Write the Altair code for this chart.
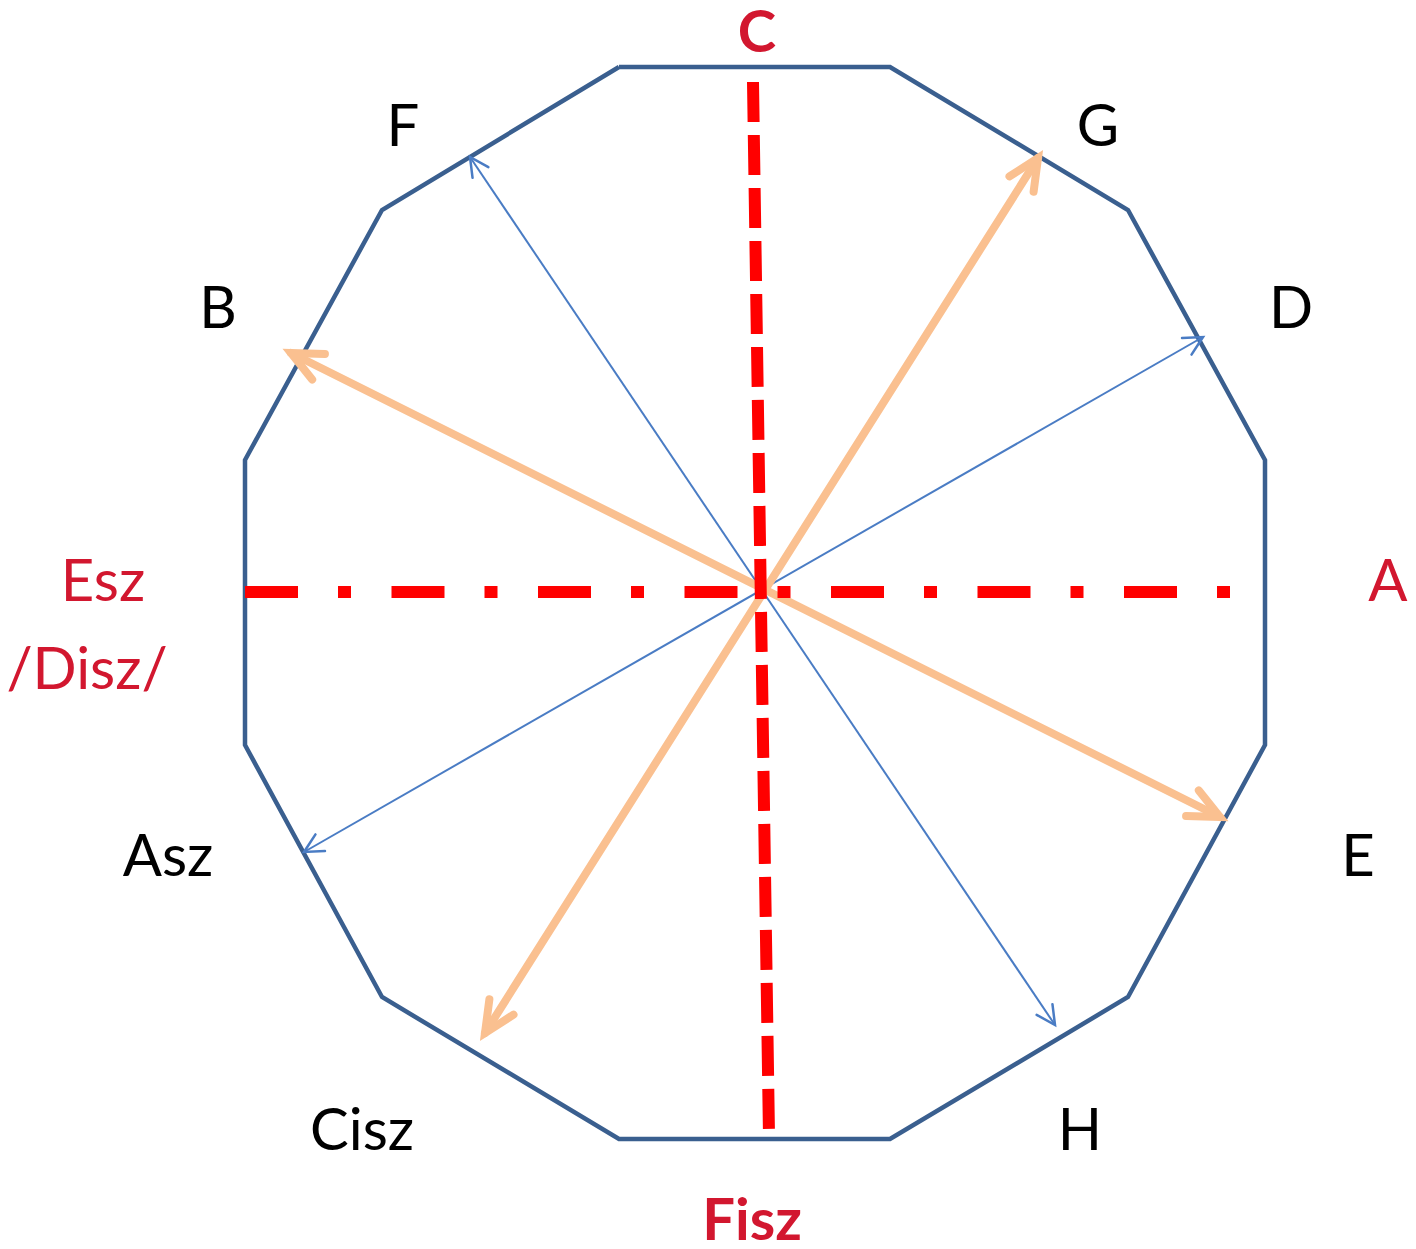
import math
import altair as alt
import pandas as pd

# ---- data (image pixel coordinates) ----
# dodecagon outline
poly_x = [619, 890, 1128, 1265, 1265, 1128, 890, 619, 382, 245, 245, 382, 619]
poly_y = [67, 67, 210, 460, 745, 997, 1139, 1139, 997, 745, 460, 210, 67]

# orange double-headed arrows (B<->E, G<->Cisz)
orange_x1 = [291, 1038]
orange_y1 = [353, 158]
orange_x2 = [1220, 485]
orange_y2 = [817, 1033]

# thin blue double-headed arrows (F<->H, D<->Asz)
blue_x1 = [470, 1203]
blue_y1 = [157, 337]
blue_x2 = [1055, 304]
blue_y2 = [1025, 852]

# red axes: vertical dashed C-Fisz, horizontal dash-dot Esz-A
vert_x = [753, 769]
vert_y = [82, 1136]
horiz_x = [245, 1230]
horiz_y = [592, 592]

# labels
labels = ["C", "F", "G", "B", "D", "Esz", "/Disz/", "A", "Asz", "E", "Cisz", "H", "Fisz"]
label_x = [757, 403, 1098, 218, 1291, 103, 87, 1388, 168, 1358, 362, 1080, 752]
label_y = [52, 146, 146, 328, 328, 601, 689, 601, 876, 876, 1150, 1150, 1240]
label_red = [True, False, False, False, False, True, True, True, False, False, False, False, True]
label_bold = [True, False, False, False, False, False, False, False, False, False, False, False, True]

RED_TEXT = "#D2172F"
POLY = "#3A5F8F"
ORANGE = "#FAC090"
BLUE = "#4A7CC4"
RED = "#FF0000"

W, H = 1400, 1233
xs = alt.Scale(domain=[8, 8 + W], nice=False, zero=False)
ys = alt.Scale(domain=[8, 8 + H], nice=False, zero=False, reverse=True)


def X(f):
    return alt.X(f + ":Q", scale=xs, axis=None)


def Y(f):
    return alt.Y(f + ":Q", scale=ys, axis=None)


poly_df = pd.DataFrame({"x": poly_x, "y": poly_y, "i": list(range(len(poly_x)))})
orange_df = pd.DataFrame({"x": orange_x1, "y": orange_y1, "x2": orange_x2, "y2": orange_y2})
blue_df = pd.DataFrame({"x": blue_x1, "y": blue_y1, "x2": blue_x2, "y2": blue_y2})


def heads(df):
    rows = []
    for _, r in df.iterrows():
        for (tx, ty, ox, oy) in [(r.x, r.y, r.x2, r.y2), (r.x2, r.y2, r.x, r.y)]:
            dx, dy = tx - ox, ty - oy
            ang = (math.degrees(math.atan2(dx, -dy)) + 360) % 360
            rows.append({"x": tx, "y": ty, "angle": ang})
    return pd.DataFrame(rows)


orange_heads = heads(orange_df)
blue_heads = heads(blue_df)

vert_df = pd.DataFrame({"x": [vert_x[0]], "y": [vert_y[0]], "x2": [vert_x[1]], "y2": [vert_y[1]]})
horiz_df = pd.DataFrame({"x": [horiz_x[0]], "y": [horiz_y[0]], "x2": [horiz_x[1]], "y2": [horiz_y[1]]})

text_df = pd.DataFrame({
    "label": labels, "x": label_x, "y": label_y,
    "col": [RED_TEXT if r else "#000000" for r in label_red],
    "bold": label_bold,
})

polygon = alt.Chart(poly_df).mark_line(color=POLY, strokeWidth=4.5, strokeJoin="miter").encode(
    x=X("x"), y=Y("y"), order="i:O")

orange = alt.Chart(orange_df).mark_rule(color=ORANGE, strokeWidth=8, strokeCap="round").encode(
    x=X("x"), y=Y("y"), x2="x2:Q", y2="y2:Q")

blue = alt.Chart(blue_df).mark_rule(color=BLUE, strokeWidth=2).encode(
    x=X("x"), y=Y("y"), x2="x2:Q", y2="y2:Q")

orange_h = alt.Chart(orange_heads).mark_point(
    shape="M-0.42,0.906L0,0L0.42,0.906", size=4624, filled=False, color=ORANGE,
    strokeWidth=8, strokeCap="round", strokeJoin="miter", opacity=1).encode(
    x=X("x"), y=Y("y"), angle=alt.Angle("angle:Q", scale=None))

blue_h = alt.Chart(blue_heads).mark_point(
    shape="M-0.454,0.891L0,0L0.454,0.891", size=1764, filled=False, color=BLUE,
    strokeWidth=2.5, strokeCap="round", strokeJoin="miter", opacity=1).encode(
    x=X("x"), y=Y("y"), angle=alt.Angle("angle:Q", scale=None))

vert = alt.Chart(vert_df).mark_rule(color=RED, strokeWidth=12, strokeDash=[40, 13], strokeCap="butt").encode(
    x=X("x"), y=Y("y"), x2="x2:Q", y2="y2:Q")

horiz = alt.Chart(horiz_df).mark_rule(color=RED, strokeWidth=12, strokeDash=[53, 40, 13, 40.5], strokeCap="butt").encode(
    x=X("x"), y=Y("y"), x2="x2:Q", y2="y2:Q")

text_reg = alt.Chart(text_df).transform_filter("!datum.bold").mark_text(
    font="Lato", fontSize=58, align="center", baseline="alphabetic").encode(
    x=X("x"), y=Y("y"), text="label:N", color=alt.Color("col:N", scale=None))

text_bold = alt.Chart(text_df).transform_filter("datum.bold").mark_text(
    font="Lato", fontSize=58, fontWeight="bold", align="center", baseline="alphabetic").encode(
    x=X("x"), y=Y("y"), text="label:N", color=alt.Color("col:N", scale=None))

chart = alt.layer(polygon, blue, blue_h, orange, orange_h, vert, horiz, text_reg, text_bold).properties(
    width=W, height=H, padding=0, autosize=alt.AutoSizeParams(type="none")
).configure_view(stroke=None)

chart.save("out.html", embed_options={"renderer": "svg", "actions": False})
